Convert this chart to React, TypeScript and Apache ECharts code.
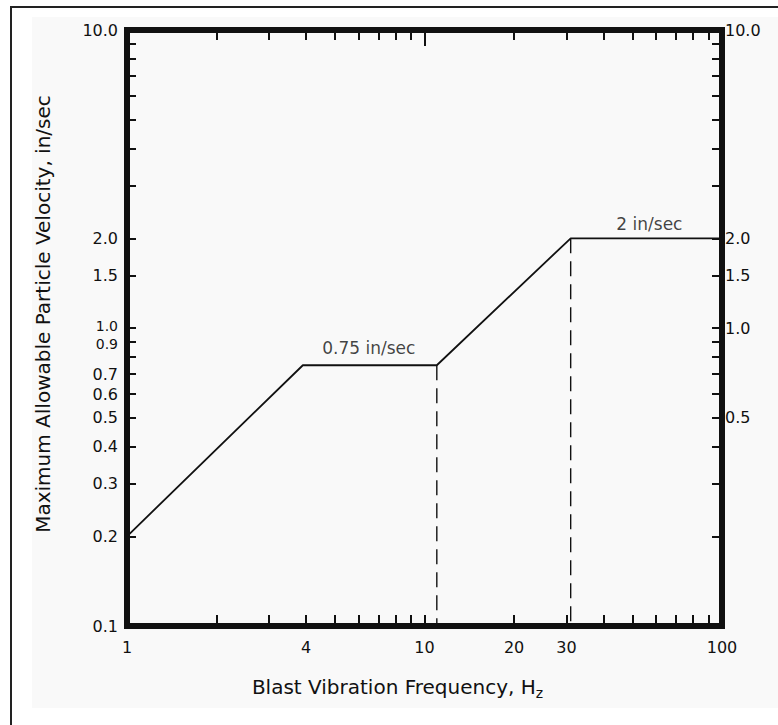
import React, { useEffect, useRef } from "react";
import * as echarts from "echarts";

// ---- data ----
const freqHz = [1, 3.9, 11, 31, 100];
const velocityInSec = [0.2, 0.75, 0.75, 2, 2];

// vertical dashed guides: from the curve corner down to the axis floor
const guideFreqHz = [11, 31];
const guideTopVelocity = [0.75, 2];
const floorVelocity = 0.1;

const annotationText = ["0.75 in/sec", "2 in/sec"];
const annotationFreq = [6.5, 57];
const annotationVelocity = [0.75, 2];

// axis ticks and labels
const xMin = 1;
const xMax = 100;
const yMin = 0.1;
const yMax = 10;
const xTickValues = [2, 3, 4, 5, 6, 7, 8, 9, 10, 20, 30, 40, 50, 60, 70, 80, 90];
const xTopTickValues = [2, 3, 4, 5, 6, 7, 8, 9, 20, 30, 40, 50, 60, 70, 80, 90];
const xTopMajorTick = [10];
const xLabelValues = [1, 4, 10, 20, 30, 100];
const yTickValues = [0.2, 0.3, 0.4, 0.5, 0.6, 0.7, 0.8, 0.9, 1, 1.5, 2, 3, 4, 5, 6, 7, 8, 9];
const yLeftLabelValues = [0.1, 0.2, 0.3, 0.4, 0.5, 0.6, 0.7, 0.9, 1, 1.5, 2, 10];
const yRightLabelValues = [0.5, 1, 1.5, 2, 10];

const xTitle = "Blast Vibration Frequency, H{sub|z}";
const yTitle = "Maximum Allowable Particle Velocity, in/sec";

const FONT = "DejaVu Sans";
const INK = "#111";

export default function App() {
  const ref = useRef<HTMLDivElement>(null);

  useEffect(() => {
    if (!ref.current) return;
    const chart = echarts.init(ref.current, undefined, { renderer: "svg" });

    const spine = { show: true, onZero: false, lineStyle: { color: INK, width: 6, cap: "square" } };
    const noSplit = { show: false };

    const curve = freqHz.map((f, i) => [f, velocityInSec[i]]);
    const guides = guideFreqHz.map((f, i) => ({
      type: "line",
      xAxisIndex: 0,
      yAxisIndex: 0,
      symbol: "none",
      silent: true,
      data: [
        [f, guideTopVelocity[i]],
        [f, floorVelocity],
      ],
      lineStyle: { color: INK, width: 1.4, type: [15, 8] },
      z: 3,
    }));

    const option: any = {
      animation: false,
      backgroundColor: "#ffffff",
      graphic: [
        {
          type: "rect",
          z: -10,
          silent: true,
          shape: { x: 32, y: 17, width: 760, height: 691 },
          style: { fill: "#f9f9f9" },
        },
        {
          type: "rect",
          z: -9,
          silent: true,
          shape: { x: 11, y: 7, width: 800, height: 760 },
          style: { fill: "none", stroke: "#222", lineWidth: 2 },
        },
      ],
      grid: {
        left: 127,
        top: 30,
        right: 56,
        bottom: 99,
        containLabel: false,
        outerBoundsMode: "none",
      },
      xAxis: [
        {
          type: "log",
          logBase: 10,
          min: xMin,
          max: xMax,
          position: "bottom",
          axisLine: spine,
          splitLine: noSplit,
          minorTick: { show: false },
          axisTick: {
            show: true,
            inside: true,
            length: 11,
            customValues: xTickValues,
            lineStyle: { color: INK, width: 2 },
          },
          axisLabel: {
            show: true,
            customValues: xLabelValues,
            margin: 13,
            color: INK,
            fontFamily: FONT,
            fontSize: 16,
            hideOverlap: false,
            showMinLabel: true,
            showMaxLabel: true,
            formatter: (v: number) => String(Math.round(v)),
          },
          name: xTitle,
          nameLocation: "middle",
          nameGap: 48,
          nameTextStyle: {
            color: INK,
            fontFamily: FONT,
            fontSize: 20,
            lineHeight: 26,
            padding: [0, 54, 0, 0],
            rich: {
              sub: { fontFamily: FONT, fontSize: 14, lineHeight: 14, verticalAlign: "bottom", color: INK },
            },
          },
        },
        {
          type: "log",
          logBase: 10,
          min: xMin,
          max: xMax,
          position: "top",
          axisLine: spine,
          splitLine: noSplit,
          axisTick: {
            show: true,
            inside: true,
            length: 10,
            customValues: xTopTickValues,
            lineStyle: { color: INK, width: 2 },
          },
          axisLabel: { show: false },
        },
        {
          type: "log",
          logBase: 10,
          min: xMin,
          max: xMax,
          position: "top",
          axisLine: { show: false },
          splitLine: noSplit,
          axisTick: {
            show: true,
            inside: true,
            length: 16,
            customValues: xTopMajorTick,
            lineStyle: { color: INK, width: 2 },
          },
          axisLabel: { show: false },
        },
      ],
      yAxis: [
        {
          type: "log",
          logBase: 10,
          min: yMin,
          max: yMax,
          position: "left",
          axisLine: spine,
          splitLine: noSplit,
          axisTick: {
            show: true,
            inside: true,
            length: 9,
            customValues: yTickValues,
            lineStyle: { color: INK, width: 2 },
          },
          axisLabel: {
            show: true,
            customValues: yLeftLabelValues,
            margin: 9,
            color: INK,
            fontFamily: FONT,
            fontSize: 16,
            hideOverlap: false,
            showMinLabel: true,
            showMaxLabel: true,
            formatter: (v: number) => {
              const s = v.toFixed(1);
              if (s === "1.0") return "{hi|" + s + "}";
              if (s === "0.9") return "{lo|" + s + "}";
              return s;
            },
            rich: {
              hi: { fontFamily: FONT, fontSize: 14, lineHeight: 14, color: INK, padding: [0, 0, 4, 0] },
              lo: { fontFamily: FONT, fontSize: 14, lineHeight: 14, color: INK, padding: [4, 0, 0, 0] },
            },
          },
          name: yTitle,
          nameLocation: "middle",
          nameRotate: 90,
          nameGap: 74,
          nameTextStyle: {
            color: INK,
            fontFamily: FONT,
            fontSize: 20,
            padding: [0, 0, 0, 28],
          },
        },
        {
          type: "log",
          logBase: 10,
          min: yMin,
          max: yMax,
          position: "right",
          axisLine: spine,
          splitLine: noSplit,
          axisTick: {
            show: true,
            inside: true,
            length: 10,
            customValues: yTickValues,
            lineStyle: { color: INK, width: 2 },
          },
          axisLabel: {
            show: true,
            customValues: yRightLabelValues,
            margin: 3,
            color: INK,
            fontFamily: FONT,
            fontSize: 16,
            hideOverlap: false,
            showMinLabel: true,
            showMaxLabel: true,
            formatter: (v: number) => v.toFixed(1),
          },
        },
      ],
      series: [
        {
          name: "Maximum allowable velocity",
          type: "line",
          xAxisIndex: 0,
          yAxisIndex: 0,
          symbol: "none",
          silent: true,
          data: curve,
          lineStyle: { color: INK, width: 1.8 },
          z: 4,
        },
        ...guides,
        {
          name: "annotations",
          type: "scatter",
          xAxisIndex: 0,
          yAxisIndex: 0,
          symbolSize: 1,
          silent: true,
          itemStyle: { color: "rgba(0,0,0,0)" },
          data: annotationFreq.map((f, i) => ({
            value: [f, annotationVelocity[i]],
            label: {
              show: true,
              position: "top",
              distance: i === 0 ? 8 : 5,
              formatter: annotationText[i],
              color: INK,
              fontFamily: FONT,
              fontSize: 17,
            },
          })),
          z: 5,
        },
      ],
    };

    chart.setOption(option);
    return () => chart.dispose();
  }, []);

  return (
    <div
      ref={ref}
      style={{ position: "fixed", left: 0, top: 0, width: 778, height: 725, background: "#fff" }}
    />
  );
}
